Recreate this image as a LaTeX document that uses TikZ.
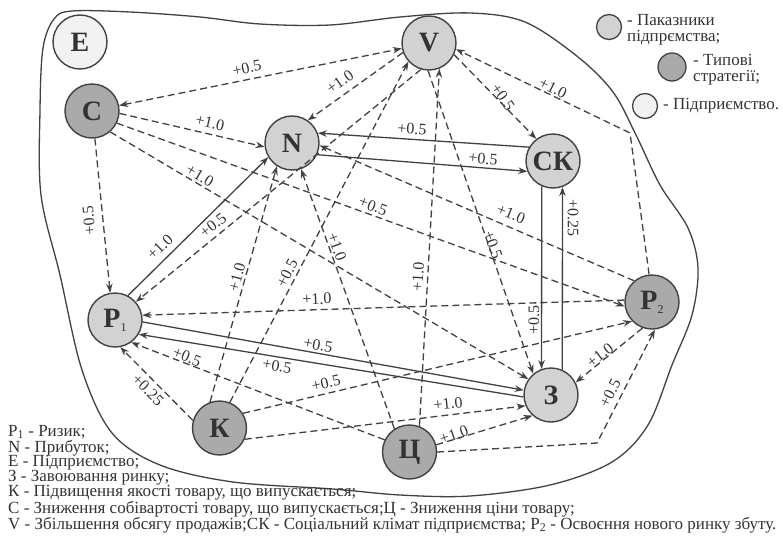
\documentclass[tikz,border=0pt]{standalone}
\usepackage{fontspec}
\setmainfont{Liberation Serif}
\usetikzlibrary{arrows.meta}
\definecolor{ink}{HTML}{333333}
\definecolor{edgegray}{HTML}{424242}
\definecolor{indfill}{HTML}{D2D2D2}
\definecolor{strfill}{HTML}{AAAAAA}
\definecolor{entfill}{HTML}{F2F2F2}
\tikzset{
  >={Stealth[length=9pt,width=6.5pt]},
  vertex/.style={circle, draw=edgegray, line width=1.4pt, minimum size=54pt,
    inner sep=0pt, font=\fontsize{28}{28}\selectfont\bfseries, text=ink},
  indicator/.style={vertex, fill=indfill},
  strategy/.style={vertex, fill=strfill},
  firm/.style={vertex, fill=entfill},
  link/.style={draw=edgegray, line width=1.3pt, dash pattern=on 7pt off 4pt, ->},
  solidlink/.style={draw=edgegray, line width=1.3pt, ->},
  wt/.style={font=\fontsize{16}{16}\selectfont, text=ink, inner sep=0pt},
  legtext/.style={font=\fontsize{17}{17}\selectfont, text=ink, anchor=west, inner sep=0pt},
  keytext/.style={font=\fontsize{17}{17}\selectfont, text=ink, anchor=west, inner sep=0pt},
  keydot/.style={circle, draw=edgegray, line width=1.3pt, inner sep=0pt},
}
\newcommand{\subidx}[1]{\raisebox{-4pt}{\fontsize{12}{12}\selectfont\mdseries #1}}
\begin{document}
\begin{tikzpicture}[x=1pt,y=-1pt]
\useasboundingbox (0,0) rectangle (783,543);

% enterprise boundary
\draw[edgegray, line width=1.3pt] plot[smooth cycle, tension=0.55] coordinates {
  (40,110) (43,48) (54,19) (72,11) (130,12) (200,17) (260,24) (330,25)
  (400,17) (470,13) (525,22) (578,57) (613,92) (636,135) (660,185)
  (688,228) (698,268) (692,315) (672,365) (648,425) (612,462) (550,485)
  (470,496) (400,495) (333,489) (233,482) (160,465) (112,433) (82,370)
  (60,275) (41,195)};

% nodes
\node[firm] (E) at (80,42) {E};
\node[strategy] (C) at (92,111) {С};
\node[indicator] (N) at (292,143) {N};
\node[indicator] (V) at (429,43) {V};
\node[indicator] (CK) at (553,161) {СК};
\node[indicator] (P1) at (115,320) {P\subidx{1}};
\node[strategy] (P2) at (652,302) {P\subidx{2}};
\node[indicator] (Z) at (551,395) {З};
\node[strategy] (K) at (219.5,428) {К};
\node[strategy] (Ts) at (409.5,452) {Ц};

\coordinate (bendPV) at (630,133);
\coordinate (bendTsP2) at (597,443);

% dashed influences
\draw[link,<->] (C) -- (V);
\draw[link] (C.-5) -- (N.188);
\draw[link] (C.-49) -- (Z.145);
\draw[link] (C.-26) -- (P2.189);
\draw[link] (C.-84) -- (P1.100);
\draw[link] (V.200) -- (N.55);
\draw[link] (V.-25) -- (CK.127);
\draw[link] (P2.96) -- (bendPV) -- (V.-13);
\draw[link] (Ts.69) -- (V.-68);
\draw[link] (K.68) -- (V.222);
\draw[link] (K.110) -- (N.237);
\draw[link] (Ts.123) -- (N.-71);
\draw[link] (V.-107) -- (P1.41);
\draw[link] (V.-92) -- (Z.130);
\draw[link] (P2.130) -- (N.-5);
\draw[link] (P2.176) -- (P1.10);
\draw[link] (Ts.154) -- (P1.-54);
\draw[link] (K.164) -- (P1.-79);
\draw[link] (K.32) -- (P2.224);
\draw[link] (K.-24) -- (Z.203);
\draw[link] (Ts.15) -- (Z.228);
\draw[link] (P2.250) -- (Z.27);
\draw[link] (Ts.east) -- (bendTsP2) -- (P2.-84);

% solid influences
\draw[solidlink] (P1.62) -- (N.211);
\draw[solidlink] (CK.150) -- (N.21);
\draw[solidlink] (N.-25) -- (CK.202);
\draw[solidlink] (CK.-114) -- (Z.110);
\draw[solidlink] (Z.66) -- (CK.-70);
\draw[solidlink] (P1.-4) -- (Z.170);
\draw[solidlink] (Z.184) -- (P1.-31);

% weights
\node[wt, rotate=12] (wCV) at (247,68) {+0.5};
\node[wt, rotate=-13] (wCN) at (210,123) {+1.0};
\node[wt, rotate=-31] (wCZ) at (200,176) {+1.0};
\node[wt, rotate=95] (wCP1) at (89,220) {+0.5};
\node[wt, rotate=-20] (wCP2) at (373,206) {+0.5};
\node[wt, rotate=35] (wVN) at (340,82) {+1.0};
\node[wt, rotate=-55] (wVCK) at (503,97) {+0.5};
\node[wt, rotate=-27] (wP2V) at (553,88) {+1.0};
\node[wt, rotate=-4] (wCKN) at (412,129) {+0.5};
\node[wt, rotate=-5] (wNCK) at (483,159) {+0.5};
\node[wt, rotate=90] (wCKZ) at (534,320) {+0.5};
\node[wt, rotate=-90] (wZCK) at (573,218) {+0.25};
\node[wt, rotate=44] (wP1N) at (160,247) {+1.0};
\node[wt, rotate=38] (wVP1) at (213,225) {+0.5};
\node[wt, rotate=75] (wKN) at (237,277) {+1.0};
\node[wt, rotate=63] (wKV) at (287,273) {+0.5};
\node[wt, rotate=-70] (wTsN) at (337,247) {+1.0};
\node[wt, rotate=87] (wTsV) at (418,277) {+1.0};
\node[wt, rotate=-70] (wVZ) at (493,245) {+0.5};
\node[wt, rotate=-22] (wP2N) at (511,214) {+1.0};
\node[wt, rotate=2] (wP2P1) at (317,299) {+1.0};
\node[wt, rotate=-10] (wP1Z) at (318,345) {+0.5};
\node[wt, rotate=-9] (wZP1) at (277,366) {+0.5};
\node[wt, rotate=-21] (wTsP1) at (187,357) {+0.5};
\node[wt, rotate=-45] (wKP1) at (148,390) {+0.25};
\node[wt, rotate=13] (wKP2) at (326,383) {+0.5};
\node[wt, rotate=6] (wKZ) at (448,404) {+1.0};
\node[wt, rotate=19] (wTsZ) at (454,435) {+1.0};
\node[wt, rotate=63] (wTsP2) at (610,393) {+0.5};
\node[wt, rotate=38] (wP2Z) at (600,355) {+1.0};

% key
\node[keydot, fill=indfill, minimum size=25pt] (keyA) at (609,27) {};
\node[keytext] (keyA1) at (627,20) {- Паказники};
\node[keytext] (keyA2) at (627,38) {підпрємства;};
\node[keydot, fill=strfill, minimum size=28pt] (keyB) at (672,67) {};
\node[keytext] (keyB1) at (693,60) {- Типові};
\node[keytext] (keyB2) at (693,78) {стратегії;};
\node[keydot, fill=entfill, minimum size=25pt] (keyC) at (645,106) {};
\node[keytext] (keyC1) at (663,106) {- Підприємство.};

% notation
\node[legtext] (d1) at (8,432) {P\textsubscript{1} - Ризик;};
\node[legtext] (d2) at (8,448) {N - Прибуток;};
\node[legtext] (d3) at (8,463) {E - Підприємство;};
\node[legtext] (d4) at (8,478) {З - Завоювання ринку;};
\node[legtext] (d5) at (8,493) {К - Підвищення якості товару, що випускається;};
\node[legtext] (d6) at (8,509) {С - Зниження собівартості товару, що випускається;Ц - Зниження ціни товару;};
\node[legtext] (d7) at (8,525) {V - Збільшення обсягу продажів;СК - Соціальний клімат підприємства; P\textsubscript{2} - Освоєння нового ринку збуту.};
\end{tikzpicture}
\end{document}
